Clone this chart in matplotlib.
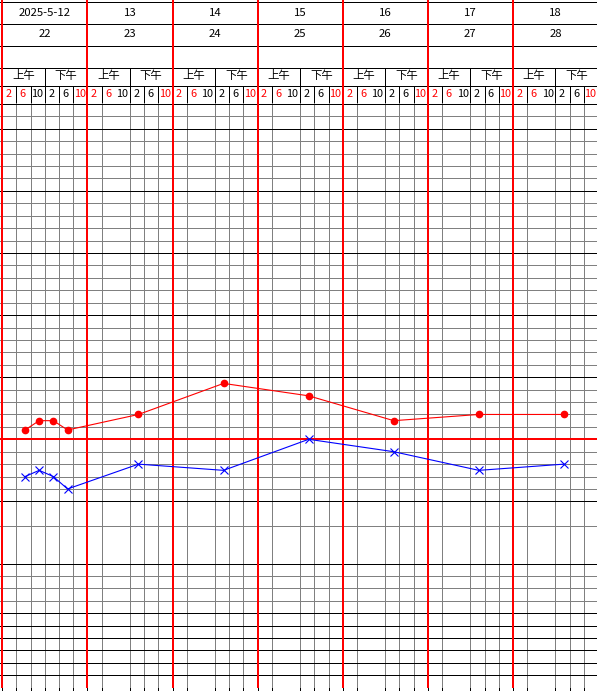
import matplotlib
matplotlib.use('Agg')
import matplotlib.pyplot as plt

plt.rcParams['font.family'] = ['Noto Sans CJK SC', 'DejaVu Sans']

# ---------------- data ----------------
dates = ['2025-5-12', '13', '14', '15', '16', '17', '18']
hosp_days = ['22', '23', '24', '25', '26', '27', '28']
halves = ['上午', '下午']
times = ['2', '6', '10', '2', '6', '10']
time_colors = ['red', 'red', 'black', 'black', 'black', 'red']

# slot index = day*6 + time slot
pulse_slots = [1, 2, 3, 4, 9, 15, 21, 27, 33, 39]
pulse_vals = [83, 86, 86, 83, 88, 98, 94, 86, 88, 88]          # red dots (bpm)
temp_slots = [1, 2, 3, 4, 9, 15, 21, 27, 33, 39]
temp_vals = [36.4, 36.5, 36.4, 36.2, 36.6, 36.5, 37.0, 36.8, 36.5, 36.6]  # blue x (°C)

def pulse_to_temp(p):
    return 37 + (p - 80) / 20.0

# ---------------- layout ----------------
W, H = 597, 691
fig = plt.figure(figsize=(W / 100, H / 100), dpi=100)
n_days = len(dates)
px_slot = 85.1 / 6
x0 = 2.3
xlim = ((0 - x0) / px_slot, (W - x0) / px_slot)

HB = 103  # header bottom (px)
hdr = fig.add_axes([0, 1 - HB / H, 1, HB / H])
hdr.set_xlim(xlim)
hdr.set_ylim(HB, 0)
hdr.axis('off')

ax = fig.add_axes([0, 0, 1, 1 - HB / H])
px_deg = 62.1
y37 = 439.3
T_top = 37 + (y37 - HB) / px_deg
T_bot = 37 - (H - y37) / px_deg
ax.set_xlim(xlim)
ax.set_ylim(T_bot, T_top)
ax.axis('off')

LW1 = 0.5
LW2 = 1.44
GRAY = '#808080'
AA = False

# ---- header rows ----
row_lines = [2, 24, 46, 68, 86]
for y in row_lines:
    hdr.hlines(y, xlim[0], xlim[1], color='black', lw=LW1, antialiased=AA, zorder=2)
for d in range(n_days):
    hdr.vlines(6 * d, 0, HB, color='red', lw=LW2, zorder=4)
    hdr.vlines(6 * d + 3, 68, HB, color='black', lw=LW1, antialiased=AA, zorder=3)
    for k in (1, 2, 4, 5):
        if k == 2 and d > 0:
            continue
        hdr.vlines(6 * d + k, 86, HB, color='black', lw=LW1, antialiased=AA, zorder=3)
    hdr.text(6 * d + 3, 12.5, dates[d], ha='center', va='center', fontsize=8.2)
    hdr.text(6 * d + 3, 34, hosp_days[d], ha='center', va='center', fontsize=8.2)
    for h in range(2):
        hdr.text(6 * d + 1.5 + 3 * h, 76, halves[h], ha='center', va='center', fontsize=8.2)
    for k in range(6):
        hdr.text(6 * d + k + 0.45, 94, times[k], ha='center', va='center',
                 fontsize=7.8, color=time_colors[k])

# ---- grid ----
black_lines = [42, 41, 40, 39, 38, 36, 35, 34.2, 34.0, 33.8, 33.6, 33.4, 33.2]
gray_lines = []
for deg in range(37, 42):
    for t in (0.2, 0.4, 0.6, 0.8):
        gray_lines.append(deg + t)
gray_lines += [42.2, 36.8, 36.6, 36.4, 36.2, 35.6, 34.8, 34.6, 34.4]

ax.hlines(42.4, xlim[0], xlim[1], color='black', lw=LW1, antialiased=AA, zorder=2)
ax.hlines(gray_lines, xlim[0], xlim[1], color=GRAY, lw=LW1, antialiased=AA, zorder=1)
ax.hlines(black_lines, xlim[0], xlim[1], color='black', lw=LW1, antialiased=AA, zorder=2)

T_tick = 33.0
for d in range(n_days):
    for k in range(6):
        xb = 6 * d + k
        if k == 0:
            ax.vlines(xb, T_tick, T_top, color='red', lw=LW2, zorder=4)
            ax.vlines(xb, T_bot, T_tick, color='black', lw=LW1, antialiased=AA, zorder=4)
        elif k == 2 and d > 0:
            continue
        else:
            ax.vlines(xb, T_tick, T_top, color=GRAY, lw=LW1, antialiased=AA, zorder=1.5)
            ax.vlines(xb, T_bot, T_tick, color='black', lw=LW1, antialiased=AA, zorder=1.5)

ax.hlines(37, xlim[0], xlim[1], color='red', lw=LW2, zorder=5)

# ---- data ----
px = [s + 0.6 for s in pulse_slots]
py = [pulse_to_temp(p) for p in pulse_vals]
ax.plot(px, py, color='red', lw=0.8, marker='o', ms=4.5, mec='red', mfc='red', zorder=6)

tx = [s + 0.6 for s in temp_slots]
ax.plot(tx, temp_vals, color='blue', lw=0.8, marker='x', ms=5.2, mew=0.8, zorder=7)

fig.savefig('out.png', dpi=100)
